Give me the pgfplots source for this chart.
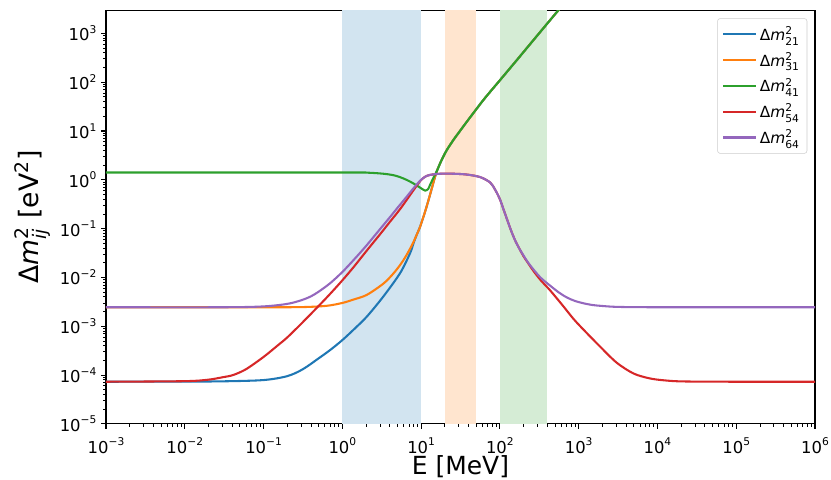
\documentclass[border=0pt]{standalone}
\usepackage{fontspec}
\setmainfont{DejaVu Sans}
\usepackage{amsmath}
\usepackage{pgfplots}
\pgfplotsset{compat=1.18}
\definecolor{c0}{HTML}{1F77B4}
\definecolor{c1}{HTML}{FF7F0E}
\definecolor{c2}{HTML}{2CA02C}
\definecolor{c3}{HTML}{D62728}
\definecolor{c4}{HTML}{9467BD}
\definecolor{b0}{RGB}{210,228,240}
\definecolor{b1}{RGB}{255,229,207}
\definecolor{b2}{RGB}{213,236,213}
\newcommand{\tsup}[1]{\raisebox{5.5pt}{\fontsize{8}{9}\selectfont #1}}
\newcommand{\dm}[1]{Δ\textit{m}$^{\text{2}}_{\text{#1}}$}
\begin{document}
\begin{tikzpicture}
\begin{axis}[
  name=ax,
  scale only axis,
  width=531.75pt, height=310pt,
  xmode=log, ymode=log,
  xmin=1e-3, xmax=1e6,
  ymin=1e-5, ymax=2.93e3,
  xtick={1e-3,1e-2,1e-1,1,10,100,1e3,1e4,1e5,1e6},
  xticklabels={10\tsup{−3},10\tsup{−2},10\tsup{−1},10\tsup{0},10\tsup{1},10\tsup{2},10\tsup{3},10\tsup{4},10\tsup{5},10\tsup{6}},
  ytick={1e-5,1e-4,1e-3,1e-2,1e-1,1,10,100,1e3},
  yticklabels={10\tsup{−5},10\tsup{−4},10\tsup{−3},10\tsup{−2},10\tsup{−1},10\tsup{0},10\tsup{1},10\tsup{2},10\tsup{3}},
  tick label style={font=\fontsize{12.3}{14}\selectfont},
  xticklabel style={anchor=base, yshift=-18.3pt},
  tick align=outside,
  tick pos=left,
  major tick length=3.7pt,
  minor tick length=2.1pt,
  every major tick/.append style={line width=0.8pt, black},
  every minor tick/.append style={line width=0.6pt, black},
  axis line style={line width=0.8pt},
  xlabel={E [MeV]},
  xlabel style={font=\fontsize{18.7}{22}\selectfont, at={([yshift=-38pt]axis description cs:0.5,0)}, anchor=base},
  ylabel={Δ\textit{m}$^{\text{2}}_{\text{\textit{ij}}}$ [eV$^{\text{2}}$]},
  ylabel style={font=\fontsize{20}{24}\selectfont},
  legend style={at={(1,1)}, anchor=north east, xshift=-5.8pt, yshift=-5.8pt,
    draw=black!20, rounded corners=2pt, font=\fontsize{11.5}{13}\selectfont,
    row sep=3.5pt, inner xsep=3.5pt, inner ysep=4pt},
  legend cell align=left,
  legend image code/.code={\draw[#1] (0pt,0pt) -- (24.75pt,0pt);},
  every axis plot/.append style={line width=1.55pt},
]
\addplot[draw=none, fill=b0, forget plot] coordinates {(1,1e-6) (10,1e-6) (10,1e4) (1,1e4)} -- cycle;
\addplot[draw=none, fill=b1, forget plot] coordinates {(20,1e-6) (50,1e-6) (50,1e4) (20,1e4)} -- cycle;
\addplot[draw=none, fill=b2, forget plot] coordinates {(100,1e-6) (400,1e-6) (400,1e4) (100,1e4)} -- cycle;

% Delta m^2_21
\addplot[c0, smooth] coordinates {
(1e-3,7.3e-5) (1e-2,7.35e-5) (0.0316,7.45e-5) (0.1,7.9e-5) (0.2,9.5e-5) (0.316,1.32e-4) (0.5,2.2e-4) (0.708,3.3e-4) (1,5.2e-4) (1.41,8.7e-4) (2.05,1.58e-3) (3.33,4.1e-3) (5.42,1.23e-2) (7.26,3.16e-2) (8.0,5.0e-2) (8.83,7.6e-2)
(9.73,0.11) (11.25,0.224) (12.6,0.417) (13.7,0.676) (15.07,1.17)
(15.85,1.51) (17.46,2.19) (19.2,3.02) (21.2,4.07) (25.8,6.6) (31.3,10.1) (38.1,15.5) (61.9,43.3) (100.9,111) (164.4,284) (267.3,730) (545.8,2900) (1000,9300)};
\addlegendentry{\dm{21}}

% Delta m^2_31
\addplot[c1, smooth] coordinates {
(1e-3,2.45e-3) (0.1,2.45e-3) (0.316,2.47e-3) (0.631,2.62e-3) (1,3.0e-3) (1.41,3.55e-3) (2.05,4.4e-3) (3.33,7.5e-3) (4.4,1.18e-2) (5.42,1.8e-2) (6.3,2.6e-2) (7.26,3.9e-2) (8.0,5.3e-2) (8.83,7.6e-2)
(9.73,0.11) (11.25,0.224) (12.6,0.417) (13.7,0.676) (15.07,1.17)
(15.85,1.51) (17.46,2.19) (19.2,3.02) (21.2,4.07) (25.8,6.6) (31.3,10.1) (38.1,15.5) (61.9,43.3) (100.9,111) (164.4,284) (267.3,730) (545.8,2900) (1000,9300)};
\addlegendentry{\dm{31}}

% Delta m^2_41
\addplot[c2, smooth] coordinates {
(1e-3,1.41) (1,1.41) (2.05,1.40) (3.33,1.33) (4.47,1.24) (5.42,1.13) (6.6,0.99) (8.0,0.84) (9.73,0.69) (11.25,0.60) (12.3,0.65) (13.0,0.79) (14.35,1.10)
(15.85,1.51) (17.46,2.19) (19.2,3.02) (21.2,4.07) (25.8,6.6) (31.3,10.1) (38.1,15.5) (61.9,43.3) (100.9,111) (164.4,284) (267.3,730) (545.8,2900) (1000,9300)};
\addlegendentry{\dm{41}}

% Delta m^2_54
\addplot[c3, smooth] coordinates {
(1e-3,7.3e-5) (0.01,7.5e-5) (0.02,8.05e-5) (0.03,9.0e-5) (0.041,1.0e-4) (0.06,1.32e-4) (0.1,2.35e-4) (0.15,4.0e-4) (0.2,5.9e-4) (0.3,1.12e-3) (0.5,2.6e-3) (0.7,4.6e-3) (1,8.7e-3) (1.4,1.65e-2) (2,3.4e-2) (3,7.6e-2) (3.98,0.135) (5.5,0.26) (7.94,0.6) (9.73,0.94)
(11.2,1.15) (13.0,1.26) (17.5,1.33) (25.8,1.33) (38.1,1.28) (56.2,1.135) (75.3,0.88) (87.1,0.625) (100,0.40) (112,0.24) (126,0.14) (141,0.085) (158,0.055) (178,0.038)
(200,0.027) (224,0.0205) (267.3,0.0135) (331,8.7e-3) (435.5,5.4e-3) (631,2.63e-3) (861,1.41e-3) (1153,8.5e-4) (1879,3.8e-4) (3055,1.78e-4) (5012,1.07e-4) (8110,8.5e-5) (12590,7.76e-5) (21480,7.4e-5) (1e5,7.3e-5) (1e6,7.3e-5)};
\addlegendentry{\dm{54}}

% Delta m^2_64
\addplot[c4, smooth] coordinates {
(1e-3,2.45e-3) (0.0316,2.45e-3) (0.1,2.55e-3) (0.2,2.87e-3) (0.3,3.4e-3) (0.4,4.1e-3) (0.5,5.1e-3) (0.7,7.6e-3) (1,1.29e-2) (1.4,2.3e-2) (2,4.4e-2) (3,9.7e-2) (4.05,0.174) (5,0.265) (6.31,0.417) (7.94,0.66) (9.73,0.96)
(11.2,1.15) (13.0,1.26) (17.5,1.33) (25.8,1.33) (38.1,1.28) (56.2,1.135) (75.3,0.88) (87.1,0.625) (100,0.40) (112,0.24) (126,0.14) (141,0.085) (158,0.055) (178,0.038)
(200,0.028) (224,0.021) (267.3,0.0145) (331,9.8e-3) (435.5,6.76e-3) (562,4.9e-3) (708,3.89e-3) (891,3.31e-3) (1153,2.95e-3) (1500,2.72e-3) (2000,2.6e-3) (3162,2.49e-3) (1e4,2.45e-3) (1e6,2.45e-3)};
\addlegendentry{\dm{64}}
\end{axis}
\pgfresetboundingbox
\path[use as bounding box] ([xshift=-79.5pt,yshift=-42pt]ax.south west) rectangle ([xshift=12pt,yshift=7.9pt]ax.north east);
\end{tikzpicture}
\end{document}
